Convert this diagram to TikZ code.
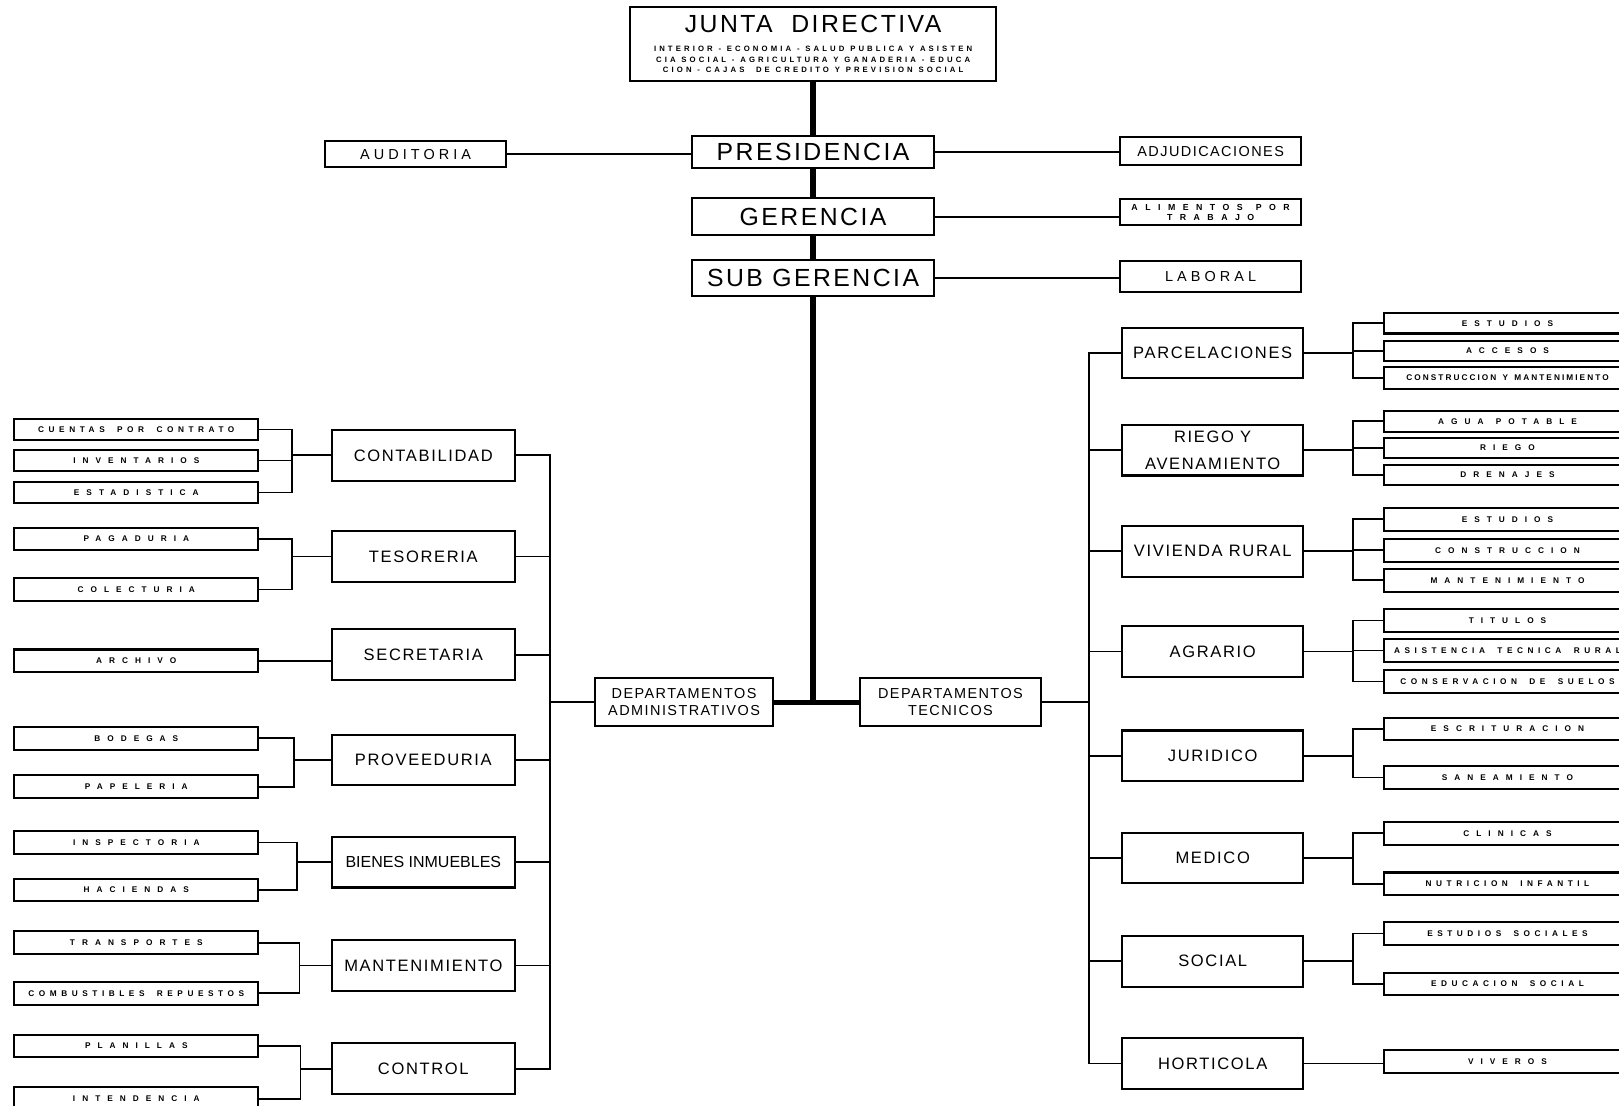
\documentclass[tikz,border=0pt]{standalone}
\usepackage{fontspec}
\setmainfont{Liberation Sans}
\newfontfamily\fLS[LetterSpace=10]{Liberation Sans}
\newfontfamily\fLSz{Liberation Sans}
\newfontfamily\fLSw[LetterSpace=28]{Liberation Sans}
\newfontfamily\fLSt[LetterSpace=40]{Liberation Sans}
\newfontfamily\fLSs[LetterSpace=85]{Liberation Sans}
\newfontfamily\fLSn[LetterSpace=55]{Liberation Sans}
\newfontfamily\fLSx[LetterSpace=25]{Liberation Sans}
\newcommand\wsp{\hspace{0.75em}}
\newcommand\Wsp{\hspace{1.5em}}
\usepackage{tikz}

\tikzset{
  box/.style={draw, line width=2pt, fill=white, inner sep=1pt, align=center},
  big/.style={box, minimum width=235pt, minimum height=31pt, font={\fLS\fontsize{24}{26}\selectfont}},
  side/.style={box, minimum width=175pt, font={\fLSw\fontsize{14}{15}\selectfont}},
  dept/.style={box, minimum width=177pt, minimum height=49pt, font={\fLS\fontsize{16}{26}\selectfont}},
  dhead/.style={box, minimum width=173pt, minimum height=46pt, font={\fLS\fontsize{14}{16}\selectfont}},
  leaf/.style={box, minimum width=236pt, minimum height=22pt, font={\fLSs\bfseries\fontsize{8}{9}\selectfont}},
  leafn/.style={leaf, font={\fLSn\bfseries\fontsize{8}{9}\selectfont}},
  leafx/.style={leaf, minimum height=21pt, font={\fLSx\bfseries\fontsize{8}{9}\selectfont}},
  leafc/.style={leaf, minimum height=20pt},
  leafcn/.style={leafn, minimum height=20pt},
  link/.style={line width=1.7pt},
  trunk/.style={line width=6pt},
}

\begin{document}
\begin{tikzpicture}[x=1pt,y=-1pt]
\fill[white] (0,0) rectangle (1568,1071);
\useasboundingbox (0,0) rectangle (1568,1071);
\clip (0,0) rectangle (1568,1071);

% direccion
\node[box, minimum width=355pt, minimum height=71pt, text width=349pt,
  font={\fLSt\bfseries\fontsize{7.5}{10.5}\selectfont}] (jd) at (787.5,42.5)
  {{\fLS\mdseries\fontsize{24}{24}\selectfont JUNTA\wsp DIRECTIVA\par}\vspace{8pt}
   INTERIOR\wsp-\wsp ECONOMIA\wsp-\wsp SALUD\wsp PUBLICA\wsp Y\wsp ASISTEN\\
   CIA\wsp SOCIAL\wsp-\wsp AGRICULTURA\wsp Y\wsp GANADERIA\wsp-\wsp EDUCA\\
   CION\wsp-\wsp CAJAS\wsp\wsp DE\wsp CREDITO\wsp Y\wsp PREVISION\wsp SOCIAL};
\node[big] (pres) at (787.5,147.5) {PRESIDENCIA};
\node[big, minimum height=36pt] (ger) at (787.5,210) {GERENCIA};
\node[big, minimum height=35pt] (subg) at (787.5,269.5) {SUB GERENCIA};
\node[side, minimum height=25pt] (aud) at (402.5,149.5) {AUDITORIA};
\node[side, minimum height=27pt, font={\fLS\fontsize{14}{15}\selectfont}] (adj) at (1172.5,146.5) {ADJUDICACIONES};
\node[side, minimum height=25pt, font={\fLSs\bfseries\fontsize{8.5}{9.5}\selectfont}] (ali) at (1172.5,205.5) {ALIMENTOS\Wsp POR\\TRABAJO};
\node[side, minimum height=30pt] (lab) at (1172.5,268) {LABORAL};

\node[dhead] (dadm) at (662.5,680) {DEPARTAMENTOS\\ADMINISTRATIVOS};
\node[dhead, minimum width=175pt] (dtec) at (920.5,680) {DEPARTAMENTOS\\TECNICOS};

\coordinate (jt) at (787.5,680);
\draw[trunk] (jd.south) -- (pres.north) (pres.south) -- (ger.north)
  (ger.south) -- (subg.north) (subg.south) -- (jt);
\draw[trunk, line width=5pt] (dadm.east) -- (dtec.west);

\draw[link] (aud.east) -- (aud.east -| pres.west);
\draw[link] (pres.east) -- (pres.east -| adj.west);
\draw[link] (ger.east) -- (ger.east -| ali.west);
\draw[link] (subg.east) -- (subg.east -| lab.west);

% departamentos administrativos
\foreach \n/\y/\t in {contab/441/CONTABILIDAD, teso/539/TESORERIA, secr/634/SECRETARIA,
  prov/736/PROVEEDURIA, mant/935/MANTENIMIENTO, ctrl/1035/CONTROL}
  \node[dept] (\n) at (410,\y) {\t};
\node[dept, font={\fLSz\fontsize{15.5}{18}\selectfont}] (bienes) at (410,835) {BIENES INMUEBLES};

\foreach \n/\y/\s/\t in {cta/416/leafcn/CUENTAS\Wsp POR\Wsp CONTRATO, inv/446/leafc/INVENTARIOS,
  est/477/leafc/ESTADISTICA, pag/522/leaf/PAGADURIA, col/571/leaf/COLECTURIA,
  arc/640/leaf/ARCHIVO, bod/715/leaf/BODEGAS, pap/762/leaf/PAPELERIA,
  insp/816/leaf/INSPECTORIA, hac/862/leaf/HACIENDAS, tra/913/leaf/TRANSPORTES,
  com/962/leafn/COMBUSTIBLES\Wsp REPUESTOS, pla/1013/leaf/PLANILLAS, int/1064/leaf/INTENDENCIA}
  \node[\s] (\n) at (132,\y) {\t};

\coordinate (lb) at (533,680);
\draw[link] (dadm.west) -- (lb);
\draw[link] (contab.east) -| (lb) |- (ctrl.east);
\foreach \d in {teso,secr,prov,bienes,mant}
  \draw[link] (\d.east) -- (\d.east -| lb);

\foreach \d/\p/\q/\k in {contab/cta/est/283, teso/pag/col/283, prov/bod/pap/285,
  bienes/insp/hac/288, mant/tra/com/290, ctrl/pla/int/291}{
  \coordinate (k) at (\k,0);
  \draw[link] (\p.east) -| (k |- \d.west) |- (\q.east);
  \draw[link] (k |- \d.west) -- (\d.west);
}
\coordinate (kc) at (283,0);
\draw[link] (inv.east) -- (inv.east -| kc);
\draw[link] (arc.east) -- (arc.east -| secr.west);

% departamentos tecnicos
\foreach \n/\y/\t in {parc/342/PARCELACIONES, riego/436/RIEGO Y\\AVENAMIENTO,
  viv/534/VIVIENDA RURAL, agr/631/AGRARIO, jur/732/JURIDICO, med/831/MEDICO,
  soc/931/SOCIAL, hort/1030/HORTICOLA}
  \node[dept, minimum width=175pt] (\n) at (1174.5,\y) {\t};

\begin{scope}[leaf/.append style={minimum width=240pt}]
\foreach \n/\y/\s/\t in {pEst/313/leafc/ESTUDIOS, pAcc/340/leafc/ACCESOS,
  pCon/366/leafx/CONSTRUCCION\wsp Y\wsp MANTENIMIENTO, rAgu/408/leafc/AGUA\Wsp POTABLE,
  rRie/434/leafc/RIEGO, rDre/460/leafc/DRENAJES, vEst/503/leaf/ESTUDIOS,
  vCon/533/leaf/CONSTRUCCION, vMan/562/leaf/MANTENIMIENTO, aTit/601/leaf/TITULOS,
  aAsi/630/leafn/ASISTENCIA\Wsp TECNICA\Wsp RURAL, aCon/660/leafn/CONSERVACION\Wsp DE\Wsp SUELOS,
  jEsc/706/leaf/ESCRITURACION, jSan/753/leaf/SANEAMIENTO, mCli/807/leaf/CLINICAS,
  mNut/856/leafn/NUTRICION\Wsp INFANTIL, sEst/904/leafn/ESTUDIOS\Wsp SOCIALES,
  sEdu/953/leafn/EDUCACION\Wsp SOCIAL, hViv/1028/leaf/VIVEROS}
  \node[\s] (\n) at (1460,\y) {\t};
\end{scope}

\coordinate (rb) at (1055,680);
\draw[link] (dtec.east) -- (rb);
\draw[link] (parc.west) -| (rb) |- (hort.west);
\foreach \d in {riego,viv,agr,jur,med,soc}
  \draw[link] (\d.west) -- (\d.west -| rb);

\coordinate (rk) at (1310,0);
\foreach \d/\p/\q in {parc/pEst/pCon, riego/rAgu/rDre, viv/vEst/vMan, agr/aTit/aCon,
  jur/jEsc/jSan, med/mCli/mNut, soc/sEst/sEdu}{
  \draw[link] (\d.east) -- (\d.east -| rk);
  \draw[link] (\p.west) -| (rk |- \d.east) |- (\q.west);
}
\foreach \m in {pAcc,rRie,vCon,aAsi}
  \draw[link] (\m.west) -- (\m.west -| rk);
\draw[link] (hort.east) -- (hort.east -| hViv.west);
\end{tikzpicture}
\end{document}
